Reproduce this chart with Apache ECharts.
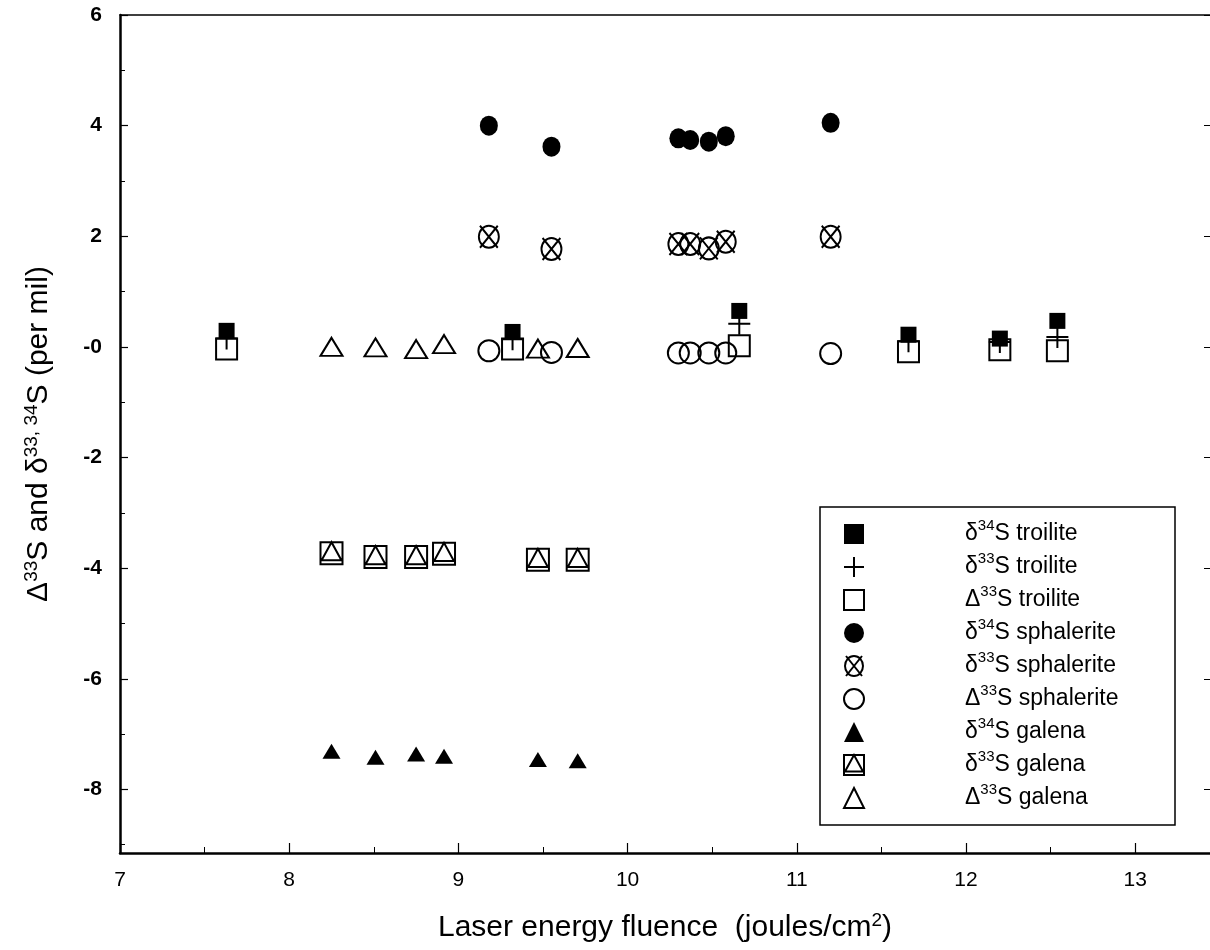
<!DOCTYPE html>
<html>
<head>
<meta charset="utf-8">
<script src="https://cdn.jsdelivr.net/npm/echarts@6/dist/echarts.min.js"></script>
<style>
    html, body { margin: 0; padding: 0; background: #fff; }
    #chart { width: 1210px; height: 950px; }
</style>
</head>
<body>
<div id="chart"></div>
<script>
    // troilite
    const troiliteX = [7.63, 9.32, 10.66, 11.66, 12.20, 12.54];
    const troiliteD34 = [0.29, 0.27, 0.65, 0.22, 0.15, 0.47];
    const troiliteD33 = [0.15, 0.14, 0.42, 0.10, 0.09, 0.18];
    const troiliteCap33 = [-0.04, -0.04, 0.02, -0.09, -0.05, -0.07];
    // sphalerite
    const sphaleriteX = [9.18, 9.55, 10.30, 10.37, 10.48, 10.58, 11.20];
    const sphaleriteD34 = [4.00, 3.62, 3.77, 3.74, 3.71, 3.81, 4.05];
    const sphaleriteD33 = [1.99, 1.77, 1.86, 1.86, 1.78, 1.90, 1.99];
    const sphaleriteCap33 = [-0.07, -0.10, -0.11, -0.11, -0.11, -0.11, -0.12];
    // galena
    const galenaX = [8.25, 8.51, 8.75, 8.915, 9.47, 9.705];
    const galenaD34 = [-7.31, -7.42, -7.36, -7.40, -7.46, -7.48];
    const galenaD33 = [-3.73, -3.80, -3.80, -3.74, -3.85, -3.85];
    const galenaCap33 = [0.00, -0.01, -0.04, 0.05, -0.03, -0.02];

    // axes
    const xTicks = [7, 8, 9, 10, 11, 12, 13];
    const xMinorTicks = [7.5, 8.5, 9.5, 10.5, 11.5, 12.5];
    const yTicks = [-8, -6, -4, -2, 0, 2, 4, 6];
    const yTickLabels = ['-8', '-6', '-4', '-2', '-0', '2', '4', '6'];
    const yMinorTicks = [-9, -7, -5, -3, -1, 1, 3, 5];

    const font = '"Liberation Sans", Arial, sans-serif';
    const PLUS = 'path://M0,10L20,10M10,0L10,20';
    const CROSS_CIRCLE = 'path://M1,11A9,10 0 1,1 19,11A9,10 0 1,1 1,11Z M2,1L18,21M18,1L2,21';
    const BOX_TRIANGLE = 'path://M0,0L20,0L20,20L0,20Z M10,0L1,16.5L19,16.5Z';
    const clear = 'rgba(0,0,0,0)';

    function pts(xs, ys) {
        return xs.map((x, i) => [x, ys[i]]);
    }

    function scatter(name, xs, ys, symbol, size, filled, z) {
        return {
            name: name,
            type: 'scatter',
            data: pts(xs, ys),
            symbol: symbol,
            symbolSize: size,
            z: z,
            itemStyle: filled
                ? { color: '#000', borderWidth: 0, opacity: 1 }
                : { color: clear, borderColor: '#000', borderWidth: 2, opacity: 1 },
            emphasis: { disabled: true }
        };
    }

    // legend label pieces: greek letter, superscript, rest
    const legendText = {
        'd34 troilite': ['δ', '34', 'S troilite'],
        'd33 troilite': ['δ', '33', 'S troilite'],
        'D33 troilite': ['Δ', '33', 'S troilite'],
        'd34 sphalerite': ['δ', '34', 'S sphalerite'],
        'd33 sphalerite': ['δ', '33', 'S sphalerite'],
        'D33 sphalerite': ['Δ', '33', 'S sphalerite'],
        'd34 galena': ['δ', '34', 'S galena'],
        'd33 galena': ['δ', '33', 'S galena'],
        'D33 galena': ['Δ', '33', 'S galena']
    };

    const chart = echarts.init(document.getElementById('chart'));

    const supRich = {
        t: { fontSize: 30, fontFamily: font, color: '#000', lineHeight: 34 },
        s: { fontSize: 19, fontFamily: font, color: '#000', verticalAlign: 'top', lineHeight: 19 }
    };

    const option = {
        animation: false,
        backgroundColor: '#fff',
        textStyle: { fontFamily: font },
        grid: { left: 120, right: 0, top: 15, bottom: 97, containLabel: false },
        graphic: [{
            type: 'rect',
            shape: { x: 820, y: 507, width: 355, height: 318 },
            style: { fill: 'none', stroke: '#000', lineWidth: 1.5 },
            z: 10
        }],
        legend: {
            orient: 'vertical',
            left: 843,
            top: 518,
            itemWidth: 20,
            itemHeight: 20,
            itemGap: 5.5,
            padding: 0,
            selectedMode: false,
            data: Object.keys(legendText),
            formatter: function (name) {
                const p = legendText[name];
                return '{t|' + p[0] + '}{s|' + p[1] + '}{t|' + p[2] + '}';
            },
            textStyle: {
                padding: [0, 0, 0, 96],
                rich: {
                    t: { fontSize: 23, fontFamily: font, color: '#000', lineHeight: 32 },
                    s: { fontSize: 15, fontFamily: font, color: '#000', verticalAlign: 'top', lineHeight: 15 }
                }
            }
        },
        xAxis: [{
            type: 'value',
            min: 7,
            max: 13.442,
            position: 'bottom',
            name: '{t|Laser energy fluence  (joules/cm}{s|2}{t|)}',
            nameLocation: 'middle',
            nameGap: 58,
            nameTextStyle: { rich: supRich },
            axisLine: { show: true, onZero: false, lineStyle: { color: '#000', width: 2.5 } },
            axisTick: { show: true, inside: true, length: 10, customValues: xTicks, lineStyle: { color: '#000', width: 1.2 } },
            axisLabel: { customValues: xTicks, margin: 17, fontSize: 21, color: '#000', fontFamily: font },
            splitLine: { show: false }
        }, {
            type: 'value',
            min: 7,
            max: 13.442,
            position: 'bottom',
            axisLine: { show: false, onZero: false },
            axisTick: { show: true, inside: true, length: 6, customValues: xMinorTicks, lineStyle: { color: '#000', width: 1 } },
            axisLabel: { show: false },
            splitLine: { show: false }
        }, {
            type: 'value',
            min: 7,
            max: 13.442,
            position: 'top',
            axisLine: { show: true, onZero: false, lineStyle: { color: '#000', width: 1.5 } },
            axisTick: { show: false },
            axisLabel: { show: false },
            splitLine: { show: false }
        }],
        yAxis: [{
            type: 'value',
            min: -9.15,
            max: 6,
            position: 'left',
            name: '{t|Δ}{s|33}{t|S and δ}{s|33, 34}{t|S (per mil)}',
            nameLocation: 'middle',
            nameRotate: 90,
            nameGap: 64,
            nameTextStyle: { rich: supRich },
            axisLine: { show: true, onZero: false, lineStyle: { color: '#000', width: 2.5 } },
            axisTick: { show: true, inside: true, length: 8, customValues: yTicks, lineStyle: { color: '#000', width: 1.2 } },
            axisLabel: {
                customValues: yTicks,
                margin: 18,
                fontSize: 21,
                fontWeight: 'bold',
                color: '#000',
                fontFamily: font,
                formatter: function (v) {
                    const i = yTicks.indexOf(Math.round(v));
                    return i >= 0 ? yTickLabels[i] : '';
                }
            },
            splitLine: { show: false }
        }, {
            type: 'value',
            min: -9.15,
            max: 6,
            position: 'left',
            axisLine: { show: false, onZero: false },
            axisTick: { show: true, inside: true, length: 5, customValues: yMinorTicks, lineStyle: { color: '#000', width: 1 } },
            axisLabel: { show: false },
            splitLine: { show: false }
        }, {
            type: 'value',
            min: -9.15,
            max: 6,
            position: 'right',
            axisLine: { show: false, onZero: false },
            axisTick: { show: true, inside: true, length: 6, customValues: yTicks, lineStyle: { color: '#000', width: 1 } },
            axisLabel: { show: false },
            splitLine: { show: false }
        }],
        series: [
            scatter('d34 troilite', troiliteX, troiliteD34, 'rect', 16, true, 2),
            scatter('d33 troilite', troiliteX, troiliteD33, PLUS, 22, false, 4),
            scatter('D33 troilite', troiliteX, troiliteCap33, 'rect', 21, false, 3),
            scatter('d34 sphalerite', sphaleriteX, sphaleriteD34, 'circle', [18, 20], true, 2),
            scatter('d33 sphalerite', sphaleriteX, sphaleriteD33, CROSS_CIRCLE, [20, 22], false, 2),
            scatter('D33 sphalerite', sphaleriteX, sphaleriteCap33, 'circle', 21, false, 2),
            scatter('d34 galena', galenaX, galenaD34, 'triangle', [18, 15], true, 2),
            scatter('d33 galena', galenaX, galenaD33, BOX_TRIANGLE, 22, false, 2),
            scatter('D33 galena', galenaX, galenaCap33, 'triangle', [22, 18], false, 2)
        ]
    };

    chart.setOption(option);
</script>
</body>
</html>
